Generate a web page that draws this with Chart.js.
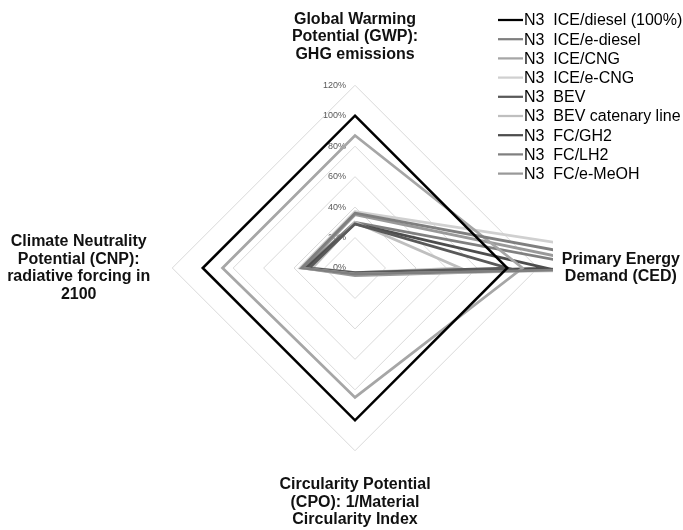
<!DOCTYPE html>
<html>
<head>
<meta charset="utf-8">
<script src="https://cdn.jsdelivr.net/npm/chart.js@4.4.1/dist/chart.umd.min.js"></script>
<style>
	body { margin: 0; background: #fff; }
	#wrap { width: 683px; height: 530px; }
</style>
</head>
<body>
<div id="wrap"><canvas id="radar-chartcanvas-1"></canvas></div>
<script>
// axes (clockwise from top)
var categories = [
	["Global Warming", "Potential (GWP):", "GHG emissions"],
	["Primary Energy", "Demand (CED)"],
	["Circularity Potential", "(CPO): 1/Material", "Circularity Index"],
	["Climate Neutrality", "Potential (CNP):", "radiative forcing in", "2100"]
];
var seriesLabels = ["N3  ICE/diesel (100%)", "N3  ICE/e-diesel", "N3  ICE/CNG", "N3  ICE/e-CNG",
	"N3  BEV", "N3  BEV catenary line", "N3  FC/GH2", "N3  FC/LH2", "N3  FC/e-MeOH"];
var tickValues = [0, 20, 40, 60, 80, 100, 120];

// values in % of ICE/diesel : GWP, CED, CPO, CNP
var iceDiesel  = [100, 100, 100, 100];
var iceEDiesel = [36, 195, 4, 35];
var iceCng     = [87, 110, 85, 87];
var iceECng    = [37, 240, 4, 36];
var bev        = [29, 100, 3, 30];
var bevCat     = [30, 69, 3, 28];
var fcGh2      = [29, 125, 4, 32];
var fcLh2      = [30, 160, 4, 33];
var fcEMeoh    = [35, 170, 5, 34];

var seriesValues = [iceDiesel, iceEDiesel, iceCng, iceECng, bev, bevCat, fcGh2, fcLh2, fcEMeoh];
var lineColors = ["#000000", "#7f7f7f", "#a6a6a6", "#d0d0d0", "#595959", "#bfbfbf", "#4d4d4d", "#808080", "#999999"];
var labelPadding = [22, 24, 25, 22]; // top, right, bottom, left

var fontFamily = '"Liberation Sans", Arial, sans-serif';

var datasets = seriesLabels.map(function (name, i) {
	return {
		label: name,
		data: seriesValues[i],
		borderColor: lineColors[i],
		backgroundColor: lineColors[i],
		borderWidth: i === 0 ? 2.5 : 2.75,
		pointRadius: 0,
		fill: false,
		// the original plot area ends a bit past the 120% ring on the right
		clip: { left: false, top: false, bottom: false, right: -130 }
	};
});

// center the multi-line axis titles like the original
var centerLabels = {
	id: "centerLabels",
	beforeDraw: function (chart) {
		var items = chart.scales.r._pointLabelItems || [];
		items.forEach(function (item) {
			item.x = (item.left + item.right) / 2;
			item.textAlign = "center";
		});
	}
};

// tick labels on the left of the vertical axis, including 0%
var tickLabels = {
	id: "tickLabels",
	beforeDatasetsDraw: function (chart) {
		var scale = chart.scales.r, ctx = chart.ctx;
		ctx.save();
		ctx.font = "9px " + fontFamily;
		ctx.fillStyle = "#595959";
		ctx.textAlign = "right";
		ctx.textBaseline = "middle";
		scale.ticks.forEach(function (t) {
			var d = scale.getDistanceFromCenterForValue(t.value);
			ctx.fillText(t.value + "%", scale.xCenter - 9, scale.yCenter - d);
		});
		ctx.restore();
	}
};

// legend in the top right corner
var cornerLegend = {
	id: "cornerLegend",
	afterDraw: function (chart) {
		var ctx = chart.ctx;
		ctx.save();
		ctx.font = "16px " + fontFamily;
		ctx.textBaseline = "middle";
		ctx.textAlign = "left";
		chart.data.datasets.forEach(function (ds, i) {
			var y = 20 + i * 19.2;
			ctx.strokeStyle = ds.borderColor;
			ctx.lineWidth = 2.25;
			ctx.beginPath();
			ctx.moveTo(498, y);
			ctx.lineTo(523, y);
			ctx.stroke();
			ctx.fillStyle = "#000";
			ctx.fillText(ds.label, 524, y + 1);
		});
		ctx.restore();
	}
};

var chart1 = new Chart(document.getElementById("radar-chartcanvas-1"), {
	type: "radar",
	data: { labels: categories, datasets: datasets },
	options: {
		responsive: true,
		maintainAspectRatio: false,
		animation: false,
		layout: { padding: { top: 9, left: 6 } },
		elements: { line: { tension: 0 } },
		scales: {
			r: {
				min: tickValues[0],
				max: tickValues[tickValues.length - 1],
				// wider label on the left: start the fit a little to the right
				afterSetDimensions: function (scale) {
					scale.xCenter += 14;
				},
				ticks: { display: false, stepSize: 20 },
				grid: { color: "#d9d9d9", lineWidth: 1 },
				angleLines: { display: false },
				pointLabels: {
					font: { family: fontFamily, size: 16, weight: "bold", lineHeight: 1.1 },
					color: "#111",
					padding: function (ctx) { return labelPadding[ctx.index]; }
				}
			}
		},
		plugins: {
			legend: { display: false },
			tooltip: { enabled: false }
		}
	},
	plugins: [centerLabels, tickLabels, cornerLegend]
});
</script>
</body>
</html>
